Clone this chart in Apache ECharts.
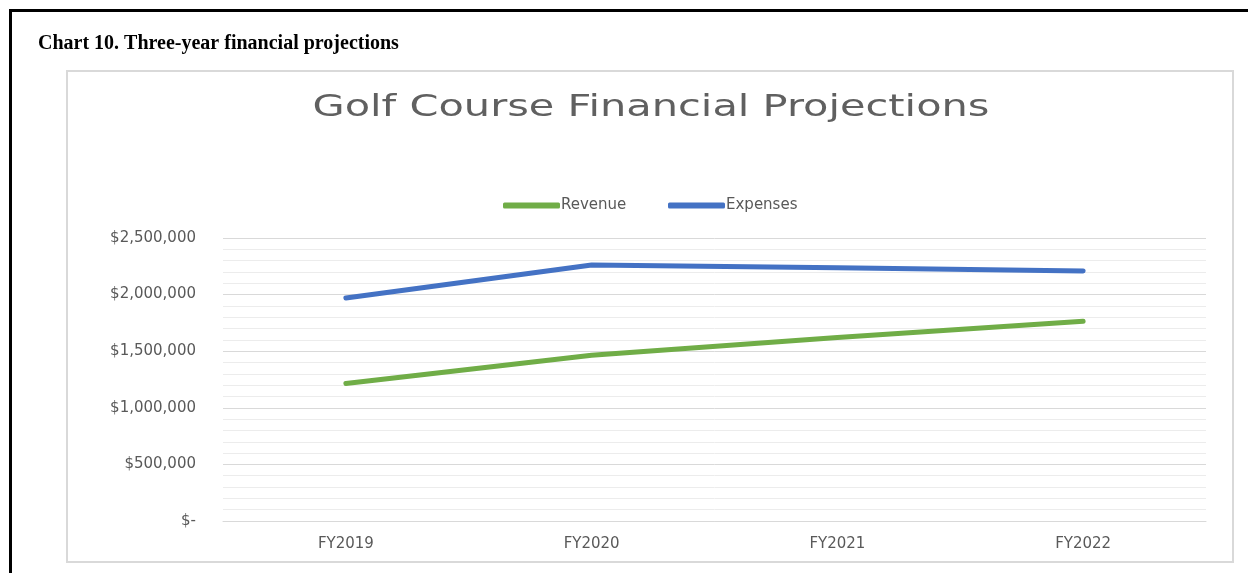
<!DOCTYPE html>
<html>
<head>
<meta charset="utf-8">
<script src="https://cdn.jsdelivr.net/npm/echarts@6/dist/echarts.min.js"></script>
<style>
html,body{margin:0;padding:0;background:#fff;}
#chart{width:1248px;height:573px;}
</style>
</head>
<body>
<div id="chart"></div>
<script>
const categories = ['FY2019', 'FY2020', 'FY2021', 'FY2022'];
const revenue = [1215000, 1465000, 1620000, 1765000];
const expenses = [1970000, 2262000, 2238000, 2208000];
const seriesNames = ['Revenue', 'Expenses'];
const headerText = 'Chart 10. Three-year financial projections';
const titleText = 'Golf Course Financial Projections';

function fmt(v) {
  if (v === 0) return '$-';
  return '$' + v.toString().replace(/\B(?=(\d{3})+(?!\d))/g, ',');
}

const FONT = '"DejaVu Sans", "Open Sans", sans-serif';
const titleFontSize = 30;
// measure title to stretch it to the reference width
const cvs = document.createElement('canvas').getContext('2d');
cvs.font = titleFontSize + 'px "DejaVu Sans"';
const titleW = cvs.measureText(titleText).width;
const titleScale = 677 / titleW;

const chart = echarts.init(document.getElementById('chart'), null, {renderer: 'canvas'});
chart.setOption({
  backgroundColor: '#fff',
  animation: false,
  title: [
    {
      text: headerText,
      left: 33, top: 29,
      textStyle: {fontFamily: 'Liberation Serif', fontWeight: 'bold', fontSize: 20, color: '#000'}
    }
  ],
  graphic: [
    {type: 'rect', shape: {x: 10.5, y: 10.5, width: 1300, height: 700}, style: {fill: 'none', stroke: '#000', lineWidth: 3}, silent: true},
    {type: 'rect', shape: {x: 67, y: 71, width: 1166, height: 491}, style: {fill: 'none', stroke: '#d9d9d9', lineWidth: 2}, silent: true},
    {type: 'text', x: 651, y: 108, scaleX: titleScale, scaleY: 1,
     style: {text: titleText, fontFamily: 'DejaVu Sans', fontSize: titleFontSize, fill: '#606060', align: 'center', verticalAlign: 'middle'}, silent: true}
  ],
  legend: [
    {
      data: [seriesNames[0]],
      left: 498, top: 193,
      itemWidth: 57, itemHeight: 6,
      icon: 'roundRect',
      textStyle: {fontFamily: FONT, fontSize: 15, color: '#595959', padding: [0, 0, 0, -4]}
    },
    {
      data: [seriesNames[1]],
      left: 663, top: 193,
      itemWidth: 57, itemHeight: 6,
      icon: 'roundRect',
      textStyle: {fontFamily: FONT, fontSize: 15, color: '#595959', padding: [0, 0, 0, -4]}
    }
  ],
  grid: {left: 223, right: 42, top: 238, bottom: 52},
  xAxis: {
    type: 'category',
    data: categories,
    boundaryGap: true,
    axisLine: {show: true, lineStyle: {color: '#d9d9d9', width: 1}},
    axisTick: {show: false},
    axisLabel: {fontFamily: FONT, fontSize: 15, color: '#595959', margin: 16}
  },
  yAxis: {
    type: 'value',
    min: 0, max: 2500000, interval: 500000,
    axisLine: {show: false},
    axisTick: {show: false},
    axisLabel: {fontFamily: FONT, fontSize: 15, color: '#595959', margin: 27, formatter: fmt},
    splitLine: {show: true, lineStyle: {color: '#d9d9d9', width: 1}},
    minorTick: {show: false, splitNumber: 5},
    minorSplitLine: {show: true, lineStyle: {color: '#ececec', width: 1}}
  },
  series: [
    {
      name: seriesNames[0], type: 'line', data: revenue,
      symbol: 'none', lineStyle: {width: 5, color: '#70AD47', cap: 'round'},
      itemStyle: {color: '#70AD47'}
    },
    {
      name: seriesNames[1], type: 'line', data: expenses,
      symbol: 'none', lineStyle: {width: 5, color: '#4472C4', cap: 'round'},
      itemStyle: {color: '#4472C4'}
    }
  ]
});
</script>
</body>
</html>
